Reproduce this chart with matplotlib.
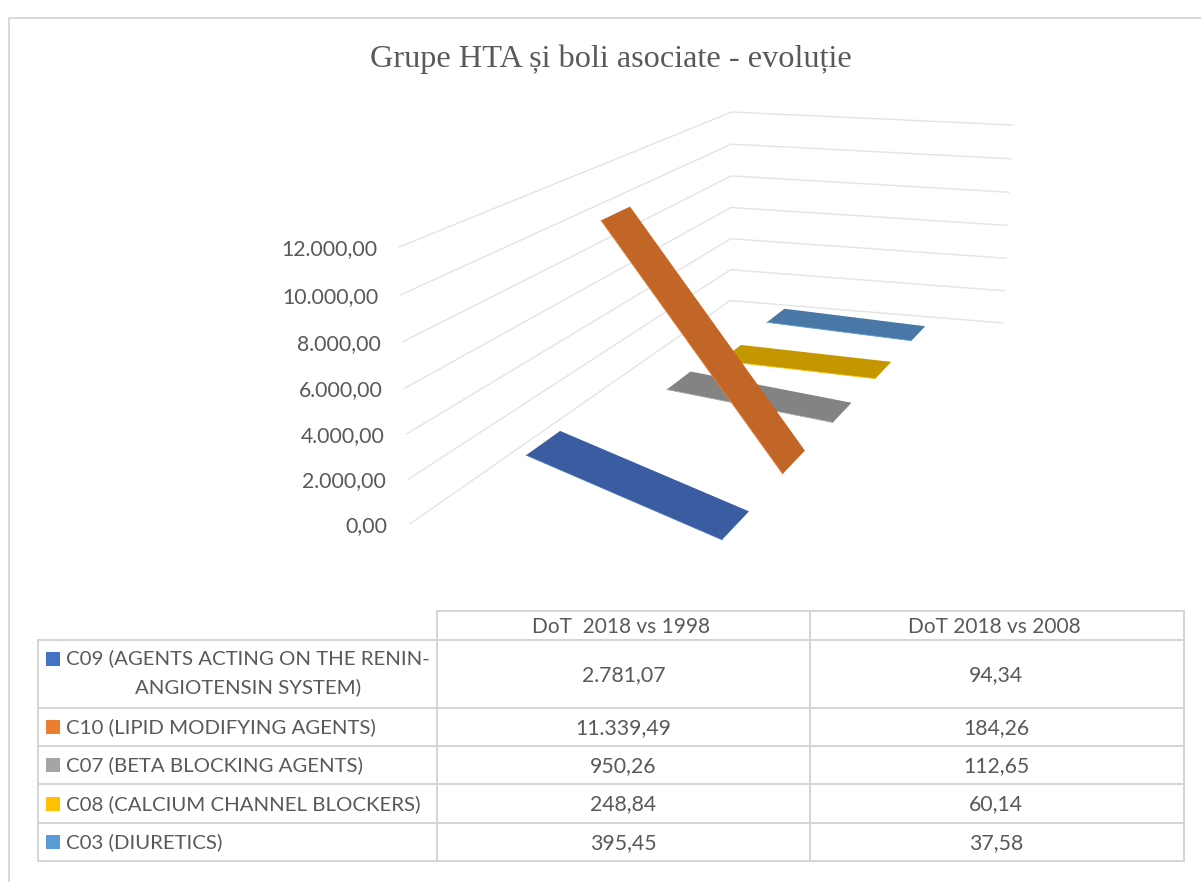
import matplotlib.pyplot as plt
from matplotlib.patches import Polygon, Rectangle
import numpy as np

title = "Grupe HTA și boli asociate - evoluție"
periods = ["DoT  2018 vs 1998", "DoT 2018 vs 2008"]
series_names = ["C09 (AGENTS ACTING ON THE RENIN-\nANGIOTENSIN SYSTEM)",
                "C10 (LIPID MODIFYING AGENTS)",
                "C07 (BETA BLOCKING AGENTS)",
                "C08 (CALCIUM CHANNEL BLOCKERS)",
                "C03 (DIURETICS)"]
vals_1998 = [2781.07, 11339.49, 950.26, 248.84, 395.45]
vals_2008 = [94.34, 184.26, 112.65, 60.14, 37.58]
labels_1998 = ["2.781,07", "11.339,49", "950,26", "248,84", "395,45"]
labels_2008 = ["94,34", "184,26", "112,65", "60,14", "37,58"]
y_ticks = [0, 2000, 4000, 6000, 8000, 10000, 12000]
y_labels = ["0,00", "2.000,00", "4.000,00", "6.000,00", "8.000,00", "10.000,00", "12.000,00"]

key_colors = ['#4472C4', '#ED7D31', '#A5A5A5', '#FFC000', '#5B9BD5']
face_colors = ['#3A5CA0', '#C26628', '#838383', '#C49600', '#4A78A6']
text_color = '#595959'
line_color = '#D9D9D9'

# wall corners of the 3D box in pixels: (x, depth, value/12000) -> (px, py)
box = [((0, 0, 0), (410, 524)), ((0, 0, 1), (399, 247)),
       ((0, 5, 0), (730, 300.5)), ((0, 5, 1), (732, 112)),
       ((2, 5, 0), (1003, 323)), ((2, 5, 1), (1012, 125))]

A, b = [], []
for (x, d, v), (px, py) in box:
    A.append([x, d, v, 1, 0, 0, 0, 0, -px*x, -px*d, -px*v])
    b.append(px)
    A.append([0, 0, 0, 0, x, d, v, 1, -py*x, -py*d, -py*v])
    b.append(py)
p = np.linalg.lstsq(np.array(A, float), np.array(b, float), rcond=None)[0]

def proj(x, d, val):
    v = val / 12000
    w = p[8]*x + p[9]*d + p[10]*v + 1
    return (p[0]*x + p[1]*d + p[2]*v + p[3]) / w, (p[4]*x + p[5]*d + p[6]*v + p[7]) / w

fig = plt.figure(figsize=(12.01, 8.82), dpi=100, facecolor='white')
ax = fig.add_axes([0, 0, 1, 1])
ax.set_xlim(0, 1201)
ax.set_ylim(882, 0)
ax.axis('off')

# outer chart frame, only top and left show
ax.plot([9, 9, 1201], [882, 17.5, 17.5], color=line_color, lw=1.4)

ax.text(611, 59, title, family='Liberation Serif', fontsize=23.2, color=text_color,
        ha='center', va='center')

# gridlines on the two walls
for t, lab in zip(y_ticks, y_labels):
    pts = [proj(0, 0, t), proj(0, 5, t), proj(2, 5, t)]
    ax.plot(*zip(*pts), color='#E4E4E4', lw=1.0, solid_joinstyle='miter')
    ax.text(pts[0][0] - 22, pts[0][1] + 2, lab, family='Lato', fontsize=15.3, color=text_color,
            ha='right', va='center')

# ribbons, back series first
half = 0.21
x_a, x_b = 0.5, 1.515
for i in range(4, -1, -1):
    d = i + 0.5
    quad = [proj(x_a, d - half, vals_1998[i]), proj(x_b, d - half, vals_2008[i]),
            proj(x_b, d + half, vals_2008[i]), proj(x_a, d + half, vals_1998[i])]
    ax.add_patch(Polygon(quad, closed=True, facecolor=face_colors[i], edgecolor='none', zorder=3))
    ax.plot(*zip(*quad[:2]), color=key_colors[i], lw=0.6, zorder=3)

# data table
tx0, tx1, tx2, tx3 = 38, 437, 810, 1184
head_top = 611
row_y = [640, 708, 746, 784, 823, 861]
tkw = dict(color='#D4D4D4', lw=1.4, zorder=1)
ax.plot([tx1, tx3], [head_top, head_top], **tkw)
for y in row_y:
    ax.plot([tx0, tx3], [y, y], **tkw)
ax.plot([tx0, tx0], [row_y[0], row_y[-1]], **tkw)
for x in (tx1, tx2, tx3):
    ax.plot([x, x], [head_top, row_y[-1]], **tkw)

fs = 15.3
fs_names = 14.65
for x0, x1, lab in zip((tx1, tx2), (tx2, tx3), periods):
    ax.text((x0 + x1) / 2 - 2.5, (head_top + row_y[0]) / 2 + 1.5, lab, family='Lato', fontsize=15,
            color=text_color, ha='center', va='center')
for i, name in enumerate(series_names):
    top, bot = row_y[i], row_y[i + 1]
    mid = (top + bot) / 2 + 1
    lines = name.split('\n')
    ky = top + 12 if len(lines) > 1 else mid - 8
    ax.add_patch(Rectangle((46, ky), 14, 14, facecolor=key_colors[i], edgecolor='none'))
    if len(lines) > 1:
        ax.text(66, top + 18, lines[0], family='Lato', fontsize=fs_names, color=text_color, va='center')
        ax.text(248, top + 47, lines[1], family='Lato', fontsize=fs_names, color=text_color, va='center', ha='center')
    else:
        ax.text(66, mid - 0.5, name, family='Lato', fontsize=fs_names, color=text_color, va='center')
    ax.text((tx1 + tx2) / 2, mid, labels_1998[i], family='Lato', fontsize=fs, color=text_color,
            ha='center', va='center')
    ax.text((tx2 + tx3) / 2 - 1, mid, labels_2008[i], family='Lato', fontsize=fs, color=text_color,
            ha='center', va='center')

fig.savefig('out.png', dpi=100)
